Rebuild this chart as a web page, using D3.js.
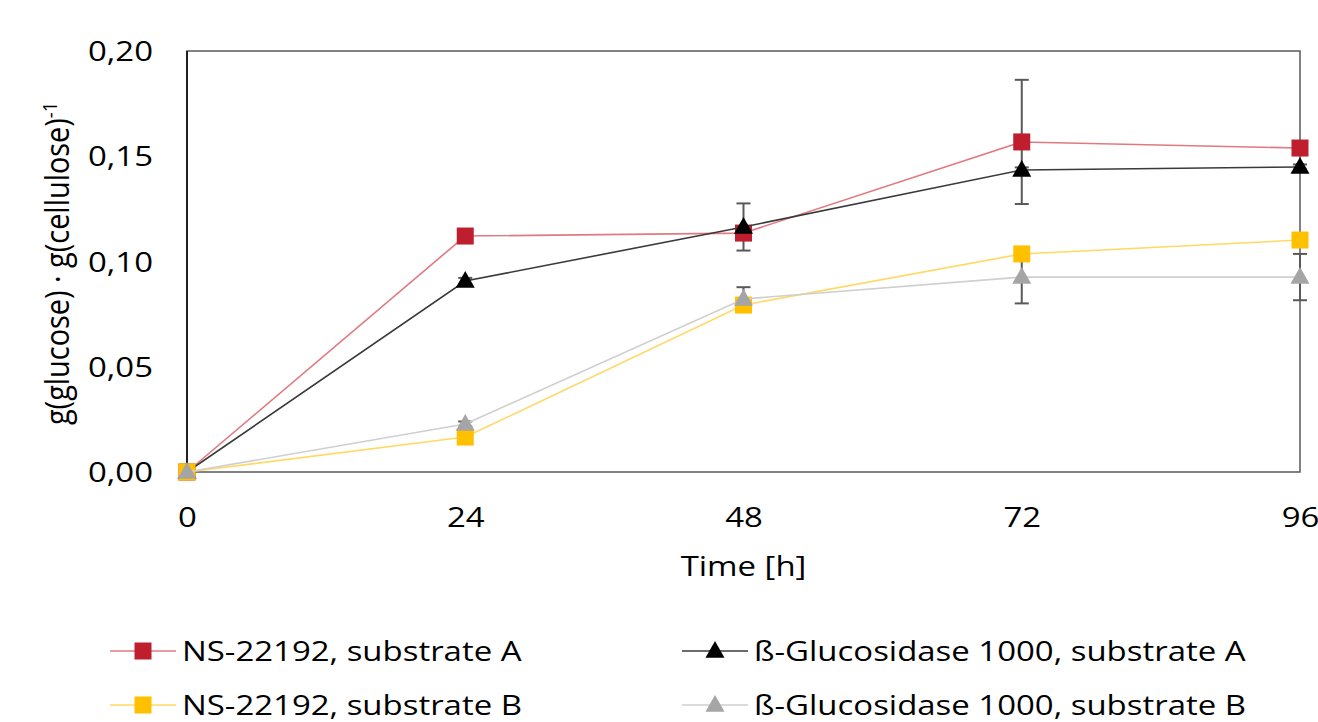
<!DOCTYPE html>
<html>
<head>
<meta charset="utf-8">
<script src="https://cdn.jsdelivr.net/npm/d3@7"></script>
<style>
  html, body { margin: 0; padding: 0; background: #fff; }
  svg { display: block; }
  text { font-family: "Open Sans", "Noto Sans", sans-serif; fill: #000; }
</style>
</head>
<body>
<svg id="chart" width="1318" height="722"></svg>
<script>
// Sampling times (h)
const times = [0, 24, 48, 72, 96];
const xTicks = [0, 24, 48, 72, 96];
const yTicks = [0, 0.05, 0.10, 0.15, 0.20];

// Glucose yield per series, g(glucose)/g(cellulose)
const nsA   = [0, 0.1121, 0.1135, 0.1568, 0.1539];
const betaA = [0, 0.0907, 0.1164, 0.1435, 0.1449];
const nsB   = [0, 0.0166, 0.0793, 0.1036, 0.1102];
const betaB = [0, 0.0228, 0.0822, 0.0926, 0.0926];

// Standard deviations
const nsAErr   = [0, 0, 0, 0.0295, 0];
const betaAErr = [0, 0.0015, 0.0112, 0.0012, 0.0012];
const nsBErr   = [0, 0, 0, 0, 0];
const betaBErr = [0, 0.0012, 0.0056, 0.0125, 0.0110];

const seriesNames = [
  "NS-22192, substrate A",
  "ß-Glucosidase 1000, substrate A",
  "NS-22192, substrate B",
  "ß-Glucosidase 1000, substrate B"
];

const series = [
  { name: seriesNames[0], values: nsA,   err: nsAErr,   shape: "square",   fill: "#BE1E2D", line: "#E07A80" },
  { name: seriesNames[1], values: betaA, err: betaAErr, shape: "triangle", fill: "#000000", line: "#3A3A3A" },
  { name: seriesNames[2], values: nsB,   err: nsBErr,   shape: "square",   fill: "#FFC000", line: "#FFD966" },
  { name: seriesNames[3], values: betaB, err: betaBErr, shape: "triangle", fill: "#A5A5A5", line: "#CFCFCF" }
];

const svg = d3.select("#chart");
const margin = { left: 187, right: 18, top: 51, bottom: 250 };
const W = 1318, H = 722;
const plotR = W - margin.right;
const plotB = H - margin.bottom;
const FS = "27px";      // base font size
const SX = 1.22;        // horizontal glyph stretch

const x = d3.scaleLinear().domain([0, 96]).range([margin.left, plotR]);
const y = d3.scaleLinear().domain([0, 0.20]).range([plotB, margin.top]);

const fmt = v => d3.format(".2f")(v).replace(".", ",");

// Plot frame
svg.append("rect")
  .attr("x", margin.left).attr("y", margin.top)
  .attr("width", plotR - margin.left).attr("height", plotB - margin.top)
  .attr("fill", "none").attr("stroke", "#595959").attr("stroke-width", 1.5);
svg.append("line")
  .attr("x1", margin.left).attr("x2", margin.left)
  .attr("y1", margin.top).attr("y2", plotB)
  .attr("stroke", "#000").attr("stroke-width", 1.5);

// Axes (labels only)
const yAxis = svg.append("g")
  .attr("transform", `translate(${margin.left},0)`)
  .call(d3.axisLeft(y).tickValues(yTicks).tickFormat(fmt).tickSize(0));
yAxis.select(".domain").remove();
yAxis.selectAll("text")
  .style("font-size", FS)
  .attr("x", 0).attr("dy", "0.36em")
  .attr("transform", `translate(-34,0) scale(${SX},1)`);

const xAxis = svg.append("g")
  .attr("transform", `translate(0,${plotB})`)
  .call(d3.axisBottom(x).tickValues(xTicks).tickFormat(d3.format("d")).tickSize(0));
xAxis.select(".domain").remove();
xAxis.selectAll("text")
  .style("font-size", FS)
  .attr("y", 0).attr("dy", "0")
  .attr("transform", `translate(0,55) scale(${SX},1)`);

// Axis titles
svg.append("text")
  .attr("transform", `translate(${x(48)},576) scale(${SX},1)`)
  .attr("text-anchor", "middle")
  .style("font-size", FS)
  .text("Time [h]");

const yTitle = svg.append("text")
  .attr("transform", `translate(69,${(margin.top + plotB) / 2 + 2}) rotate(-90) scale(1.07,${SX})`)
  .attr("text-anchor", "middle")
  .style("font-size", FS);
yTitle.append("tspan").text("g(glucose) · g(cellulose)");
yTitle.append("tspan").attr("dy", "-0.6em").style("font-size", "17px").text("-1");

// Markers
function drawMarker(g, shape, cx, cy, fill, size) {
  if (shape === "square") {
    g.append("rect")
      .attr("x", cx - size / 2).attr("y", cy - size / 2)
      .attr("width", size).attr("height", size)
      .attr("fill", fill);
  } else {
    const s = size * 1.12;
    const h = s * 0.88;
    g.append("path")
      .attr("d", `M${cx},${cy - h * 0.6}L${cx + s / 2},${cy + h * 0.4}L${cx - s / 2},${cy + h * 0.4}Z`)
      .attr("fill", fill);
  }
}

const line = d3.line().x((d, i) => x(times[i])).y(d => y(d));

// Error bars (behind lines and markers)
series.forEach(s => {
  s.values.forEach((v, i) => {
    const e = s.err[i];
    if (!e) return;
    const cx = x(times[i]);
    const eg = svg.append("g").attr("stroke", "#595959").attr("stroke-width", 2);
    eg.append("line").attr("x1", cx).attr("x2", cx).attr("y1", y(v + e)).attr("y2", y(v - e));
    eg.append("line").attr("x1", cx - 7).attr("x2", cx + 7).attr("y1", y(v + e)).attr("y2", y(v + e));
    eg.append("line").attr("x1", cx - 7).attr("x2", cx + 7).attr("y1", y(v - e)).attr("y2", y(v - e));
  });
});

// Series lines and markers
series.forEach(s => {
  svg.append("path")
    .datum(s.values)
    .attr("d", line)
    .attr("fill", "none")
    .attr("stroke", s.line)
    .attr("stroke-width", 1.6);
  const g = svg.append("g");
  s.values.forEach((v, i) => {
    drawMarker(g, s.shape, x(times[i]), y(v), s.fill, 17);
  });
});

// Legend
const legendPos = [
  { lx: 110, ly: 651 },
  { lx: 682, ly: 651 },
  { lx: 110, ly: 705 },
  { lx: 682, ly: 705 }
];
series.forEach((s, i) => {
  const p = legendPos[i];
  const g = svg.append("g");
  g.append("line")
    .attr("x1", p.lx).attr("x2", p.lx + 66)
    .attr("y1", p.ly).attr("y2", p.ly)
    .attr("stroke", s.line).attr("stroke-width", 1.6);
  drawMarker(g, s.shape, p.lx + 33, p.ly, s.fill, 17);
  g.append("text")
    .attr("transform", `translate(${p.lx + 72},${p.ly}) scale(${SX},1)`)
    .attr("dy", "0.36em")
    .style("font-size", FS)
    .text(s.name);
});
</script>
</body>
</html>
